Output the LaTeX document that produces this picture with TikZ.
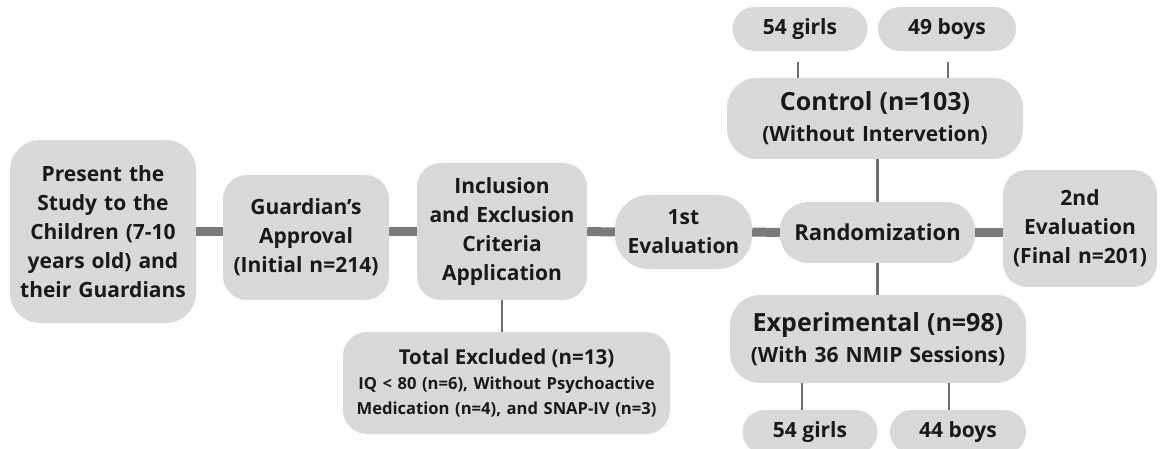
\documentclass[tikz,border=0pt]{standalone}
\usepackage{fontspec}
\setmainfont{Open Sans}
\usetikzlibrary{positioning}
\definecolor{boxgray}{HTML}{D9D9D9}
\definecolor{linkgray}{HTML}{7A7A7A}
\definecolor{thingray}{HTML}{6E6E6E}
\newcommand{\fs}[2]{\fontsize{#1}{#2}\selectfont}
\begin{document}
\begin{tikzpicture}[x=1pt, y=-1pt]

    \tikzstyle{block} = [rectangle, fill=boxgray, rounded corners=24pt, inner sep=0pt, align=center, font=\bfseries\fs{21}{29}, text=black!90]
    \tikzstyle{pill} = [block, rounded corners=22pt, minimum width=135pt, minimum height=44pt]
    \tikzstyle{link} = [linkgray, line width=9pt]
    \tikzstyle{thinlink} = [thingray, line width=2.5pt]

    \useasboundingbox (0,0) rectangle (1161,449);

    \node[block, rounded corners=30pt, minimum width=186pt, minimum height=183pt, text width=182pt] (present) at (103,231.5) {Present the\\Study to the\\Children (7-10\\years old) and\\their Guardians};
    \node[block, minimum width=166pt, minimum height=125pt, text width=162pt] (approval) at (306,237.5) {Guardian’s\\Approval\\(Initial n=214)};
    \node[block, minimum width=170pt, minimum height=137pt, text width=166pt] (criteria) at (502,231.5) {Inclusion\\and Exclusion\\Criteria\\Application};
    \node[block, minimum width=327pt, minimum height=102pt, text width=322pt, font=\bfseries\fs{16.6}{25}] (excluded) at (506.5,383) {{\fs{20.5}{25}Total Excluded (n=13)}\\IQ < 80 (n=6), Without Psychoactive\\Medication (n=4), and SNAP-IV (n=3)};
    \node[block, rounded corners=34pt, minimum width=137pt, minimum height=74pt, text width=134pt] (eval1) at (683.5,232) {1st\\Evaluation};
    \node[block, rounded corners=28pt, minimum width=195pt, minimum height=61pt, font=\bfseries\fs{22}{29}] (random) at (877.5,232.5) {Randomization};
    \node[block, minimum width=154pt, minimum height=117pt, text width=152pt] (eval2) at (1080,228.5) {2nd\\Evaluation\\(Final n=201)};
    \node[block, rounded corners=30pt, minimum width=296pt, minimum height=81pt, text width=290pt, font=\bfseries\fs{21}{31}] (control) at (875,118.5) {{\fs{25}{31}Control (n=103)}\\(Without Intervetion)};
    \node[block, rounded corners=30pt, minimum width=296pt, minimum height=88pt, text width=290pt, font=\bfseries\fs{21}{31}] (experim) at (878,339) {{\fs{25}{31}Experimental (n=98)}\\(With 36 NMIP Sessions)};

    % groups by sex
    \node[pill] (cgirls) at (800,29) {54 girls};
    \node[pill, minimum width=138pt] (cboys) at (947,29) {49 boys};
    \node[pill] (egirls) at (810,432) {54 girls};
    \node[pill, minimum width=136pt] (eboys) at (958,432) {44 boys};

    \draw[link] (present.east) -- (present.east -| approval.west);
    \draw[link] (criteria.west -| approval.east) -- (criteria.west);
    \draw[link] (criteria.east) -- (eval1.west);
    \draw[link] (eval1.east) -- (random.west);
    \draw[link] (random.east) -- (random.east -| eval2.west);

    \draw[thinlink] (criteria.south) -- (criteria.south |- excluded.north);
    \draw[thinlink] (random.north |- control.south) -- (random.north);
    \draw[thinlink] (random.south) -- (random.south |- experim.north);
    \draw[thinlink] ([xshift=-2pt]cgirls.south |- control.north) -- ([xshift=-2pt, yshift=-11pt]cgirls.south);
    \draw[thinlink] ([xshift=1pt]cboys.south |- control.north) -- ([xshift=1pt, yshift=-11pt]cboys.south);
    \draw[thinlink] ([xshift=-8pt]egirls.north) -- ([xshift=-8pt]egirls.north |- experim.south);
    \draw[thinlink] ([xshift=-9pt]eboys.north) -- ([xshift=-9pt]eboys.north |- experim.south);

\end{tikzpicture}
\end{document}
